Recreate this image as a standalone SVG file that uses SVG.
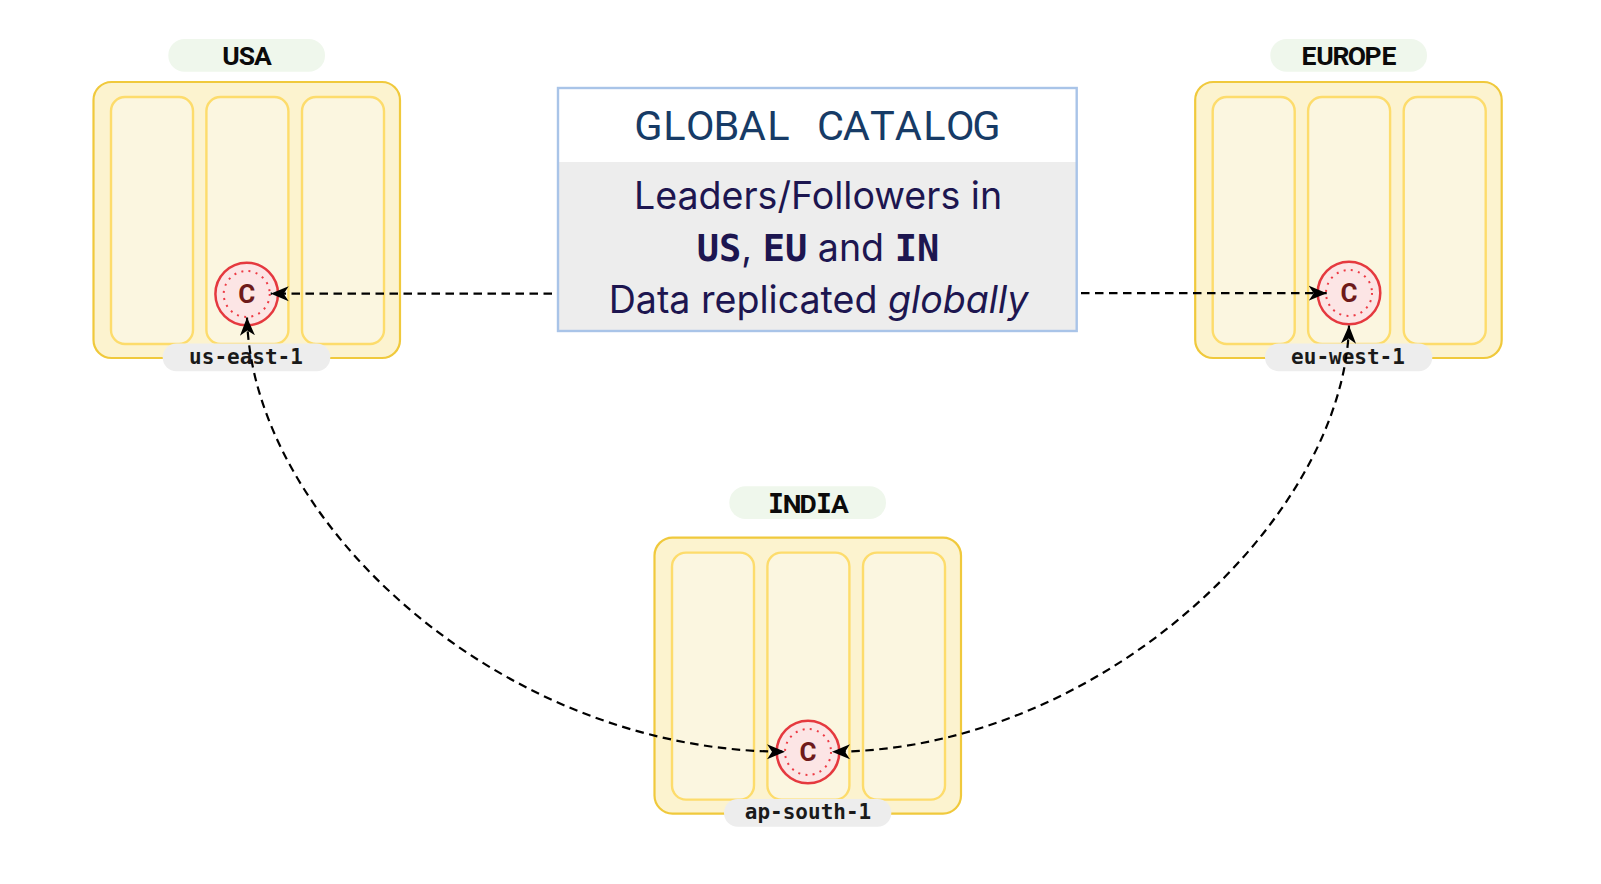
<svg xmlns="http://www.w3.org/2000/svg" width="1601" height="884" viewBox="0 0 1601 884">
<style>
.outer{fill:#fcf3cf;stroke:#f0c93c;stroke-width:2.2}
.az{fill:#fbf6e0;stroke:#fddc6c;stroke-width:2.4}
.title-pill{fill:#eff7ec}
.zone-pill{fill:#ededed}
.title{font:700 26.5px Roboto,"Noto Sans",sans-serif;fill:#0b0b0b;text-anchor:middle}
.zone{font:700 21px "DejaVu Sans Mono","Liberation Mono",monospace;fill:#1a1a1a;text-anchor:middle}
.c1{fill:#fce5e5;stroke:#e5393f;stroke-width:2.5}
.c2{fill:none;stroke:#ee3b45;stroke-width:2;stroke-dasharray:2 5.3}
.ct{font:700 26px Roboto,"Noto Sans",sans-serif;fill:#6e1a1a;text-anchor:middle}
.link{fill:none;stroke:#000;stroke-width:2.2;stroke-dasharray:8.5 5.5;marker-start:url(#a);marker-end:url(#a)}
.one{fill:none;stroke:#000;stroke-width:2.2;stroke-dasharray:8.5 5.5;marker-end:url(#a)}
.body{font:37.6px Inter,"Noto Sans",sans-serif;fill:#1d1650;text-anchor:middle}
.mono{font-family:"DejaVu Sans Mono","Liberation Mono",monospace;font-weight:700;font-size:37px}
.serif-i{font-family:"DejaVu Sans Mono","Liberation Mono",monospace}
</style>
<defs>
<marker id="a" viewBox="0 0 18 16" refX="18" refY="8" markerWidth="18" markerHeight="16" markerUnits="userSpaceOnUse" orient="auto-start-reverse"><path d="M0 0.5 L18 8 L0 15.5 L5 8Z" fill="#000"/></marker>
<g id="region">
<rect class="outer" x="93.5" y="82" width="306.5" height="276" rx="18"/>
<rect class="az" x="111" y="97" width="82" height="247" rx="14"/>
<rect class="az" x="206.4" y="97" width="82" height="247" rx="14"/>
<rect class="az" x="302" y="97" width="82" height="247" rx="14"/>
</g>
</defs>
<g id="node-usa">
<rect class="title-pill" x="168.3" y="39" width="156.7" height="32.7" rx="16.3"/>
<text class="title" x="231 247 263" y="65">USA</text>
<use href="#region"/>
<rect class="zone-pill" x="162.7" y="343.5" width="167.6" height="27.7" rx="13.8"/>
<text class="zone" x="246" y="363.5">us-east-1</text>
<circle class="c1" cx="246.7" cy="294" r="31.3"/><circle class="c2" cx="246.7" cy="294" r="23"/>
<text class="ct" x="246.7" y="303.2">C</text>
</g>
<g id="node-europe">
<rect class="title-pill" x="1270.3" y="39" width="156.7" height="32.7" rx="16.3"/>
<text class="title" x="1309 1325 1341 1357 1373 1389" y="65">EUROPE</text>
<use href="#region" x="1101.7"/>
<rect class="zone-pill" x="1265" y="343.5" width="167.3" height="27.7" rx="13.8"/>
<text class="zone" x="1348" y="363.5">eu-west-1</text>
<circle class="c1" cx="1349" cy="293" r="31.3"/><circle class="c2" cx="1349" cy="293" r="23"/>
<text class="ct" x="1349" y="302.2">C</text>
</g>
<g id="node-india">
<rect class="title-pill" x="729.3" y="486.3" width="156.7" height="32.7" rx="16.3"/>
<text class="title" x="776 792 808 824 840" y="512.8"><tspan class="serif-i">I</tspan>ND<tspan class="serif-i">I</tspan>A</text>
<use href="#region" x="561" y="455.6"/>
<rect class="zone-pill" x="724" y="799" width="167.3" height="27.7" rx="13.8"/>
<text class="zone" x="808" y="819">ap-south-1</text>
<circle class="c1" cx="808" cy="752" r="31.3"/><circle class="c2" cx="808" cy="752" r="23"/>
<text class="ct" x="808" y="761.2">C</text>
</g>
<g id="node-catalog">
<rect x="558" y="88" width="518.7" height="243" fill="#fff"/>
<rect x="558" y="162" width="518.7" height="169" fill="#ededed"/>
<rect x="558" y="88" width="518.7" height="243" fill="none" stroke="#a9c4e8" stroke-width="2.4"/>
<text x="648.4 674.4 700.4 726.4 752.4 778.4 804.4 830.4 856.4 882.4 908.4 934.4 960.4 986.4" y="140.3" font-family="Roboto,'Noto Sans',sans-serif" font-size="41.5" fill="#173b66" text-anchor="middle">GLOBAL CATALOG</text>
<text class="body" x="818" y="209">Leaders/Followers in</text>
<text class="body" x="818" y="260.8"><tspan class="mono">US</tspan>, <tspan class="mono">EU</tspan> and <tspan class="mono">IN</tspan></text>
<text class="body" x="818.5" y="312.5">Data replicated <tspan font-style="italic">globally</tspan></text>
</g>
<g id="connectors">
<path class="one" d="M552 293.7H270.7"/>
<path class="one" d="M1081 293.2H1326.7"/>
<path class="link" d="M247 317.5C252 520 500 751.7 785 751.7"/>
<path class="link" d="M1349 325.5C1344 520 1097 751.7 832 751.7"/>
</g>
</svg>
